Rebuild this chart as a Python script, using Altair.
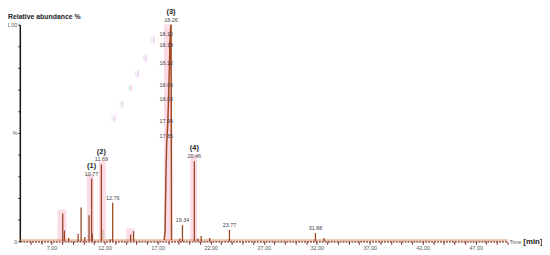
import altair as alt
import pandas as pd

# ---------------- data ----------------
# narrow peaks (retention time in min, relative abundance 0..1)
peak_times = [8.05, 8.21, 8.60, 9.50, 9.78, 10.13, 10.53, 10.77, 10.83, 11.69,
              12.54, 12.76, 14.45, 14.73, 19.09, 19.34, 20.46, 20.79, 21.10,
              21.91, 23.77, 31.88, 32.70]
peak_heights = [0.128, 0.050, 0.016, 0.035, 0.156, 0.020, 0.120, 0.290, 0.035, 0.355,
                0.010, 0.178, 0.031, 0.047, 0.013, 0.075, 0.370, 0.013, 0.025,
                0.015, 0.053, 0.038, 0.016]
# faint (light coloured) peak
faint_times = [11.85]
faint_heights = [0.055]

# main peak profile (3)
main_times = [17.62, 17.70, 17.78, 17.85, 17.96, 18.03, 18.06, 18.12, 18.15, 18.19, 18.26, 18.29, 18.31]
main_heights = [0.006, 0.05, 0.30, 0.45, 0.55, 0.66, 0.72, 0.82, 0.91, 0.96, 1.0, 0.5, 0.006]
main_apex = 18.26

# stacked retention-time labels on the main peak
stack_labels = ["18.15", "18.19", "18.12", "18.06", "18.03", "17.96", "17.85"]
stack_heights = [0.956, 0.907, 0.823, 0.721, 0.655, 0.553, 0.487]

# labelled peaks
labelled_peaks = ["10.77", "11.69", "12.76", "19.34", "20.46", "23.77", "31.88"]
# compound numbers
group_names = ["(1)", "(2)", "(3)", "(4)"]
group_peaks = [10.77, 11.69, 18.26, 20.46]

# integration bands (pink)
band_start = [7.56, 10.34, 11.45, 14.05, 17.60, 20.08]
band_end = [8.39, 10.99, 12.10, 14.79, 18.36, 20.73]
band_top = [0.146, 0.31, 0.37, 0.06, 1.0, 0.40]

# stray pink marks in the upper area
stray_times = [16.65, 15.91, 15.16, 14.51, 13.68, 12.94]
stray_heights = [0.93, 0.845, 0.774, 0.708, 0.633, 0.566]

baseline_level = 0.006
time_start, time_end = 4.0, 50.0
y_ticks = [round(i / 10, 1) for i in range(11)]
x_ticks = list(range(5, 51))

# ---------------- tables ----------------
peaks_df = pd.DataFrame({"t": peak_times, "h": peak_heights, "h0": 0.0})
faint_df = pd.DataFrame({"t": faint_times, "h": faint_heights, "h0": 0.0})
main_df = pd.DataFrame({"t": main_times, "h": main_heights})
height_of = dict(zip(peak_times, peak_heights))
lab_df = pd.DataFrame({"t": [float(s) for s in labelled_peaks], "label": labelled_peaks})
lab_df["h"] = [height_of[v] for v in lab_df["t"]]
height_of[main_apex] = 1.0
grp_df = pd.DataFrame({"t": group_peaks, "label": group_names})
grp_df["h"] = [height_of[v] for v in grp_df["t"]]
apex_df = pd.DataFrame({"t": [main_apex], "h": [1.0], "label": [f"{main_apex:.2f}"]})
stack_df = pd.DataFrame({"t": main_apex, "h": stack_heights, "label": stack_labels})
band_df = pd.DataFrame({"t": band_start, "t2": band_end, "h": band_top, "h0": 0.0})
stray_df = pd.DataFrame({"t": [v - 0.07 for v in stray_times], "t2": [v + 0.07 for v in stray_times],
                         "h": [v - 0.016 for v in stray_heights], "h2": [v + 0.016 for v in stray_heights]})
stray_c_df = pd.DataFrame({"t": [v - 0.3 for v in stray_times], "t2": [v - 0.12 for v in stray_times],
                           "h": [v - 0.012 for v in stray_heights], "h2": [v + 0.012 for v in stray_heights]})
base_df = pd.DataFrame({"t": [time_start], "t2": [time_end], "h": [baseline_level]})
one = pd.DataFrame({"a": [0]})

FONT = "Liberation Sans"
xscale = alt.Scale(domain=[time_start, time_end], nice=False, zero=False)
yscale = alt.Scale(domain=[0, 1], nice=False, zero=True)
xaxis = alt.Axis(values=x_ticks, labelExpr="(datum.value - 7) % 5 == 0 ? format(datum.value, '.2f') : ''",
                 labelOverlap=False, grid=False, title=None, tickSize=3, tickColor="#7a2a2a",
                 domainColor="#7a2a2a", domainWidth=1.2, domainDash=[2, 1], labelFontSize=5.5,
                 labelColor="#555555", labelPadding=1, labelFont=FONT)
yaxis = alt.Axis(values=y_ticks,
                 labelExpr="datum.value == 1 ? '1.00' : (datum.value == 0.5 ? '%' : (datum.value == 0 ? '0' : ''))",
                 labelOverlap=False, grid=False, title=None, tickSize=2, tickColor="#222222",
                 domainColor="#111111", domainWidth=1.5, labelFontSize=5.5, labelColor="#555555",
                 labelPadding=1, labelFont=FONT)


def X(f):
    return alt.X(f, type="quantitative", scale=xscale, axis=xaxis)


def Y(f):
    return alt.Y(f, type="quantitative", scale=yscale, axis=yaxis)


bands = alt.Chart(band_df).mark_rect(color="#fbd3e2", opacity=0.85).encode(
    x=X("t"), x2="t2", y=Y("h0"), y2="h")
stray = alt.Chart(stray_df).mark_rect(color="#f5bde6", opacity=0.8).encode(x=X("t"), x2="t2", y=Y("h"), y2="h2")
stray_c = alt.Chart(stray_c_df).mark_rect(color="#d6f1f8", opacity=0.8).encode(x=X("t"), x2="t2", y=Y("h"), y2="h2")
baseline = alt.Chart(base_df).mark_rule(color="#d98a4c", strokeWidth=1).encode(x=X("t"), x2="t2", y=Y("h"))
peaks = alt.Chart(peaks_df).mark_rule(color="#9a4722", strokeWidth=1.3).encode(x=X("t"), y=Y("h0"), y2="h")
faint = alt.Chart(faint_df).mark_rule(color="#d9b99c", strokeWidth=1.3).encode(x=X("t"), y=Y("h0"), y2="h")
main = alt.Chart(main_df).mark_line(color="#a0481f", strokeWidth=1.5).encode(x=X("t"), y=Y("h"))

num_labels = alt.Chart(lab_df).mark_text(font=FONT, fontSize=5.5, color="#444444", baseline="bottom", dy=-2).encode(
    x=X("t"), y=Y("h"), text="label")
apex_label = alt.Chart(apex_df).mark_text(font=FONT, fontSize=5.5, color="#444444", baseline="bottom", dy=-2).encode(
    x=X("t"), y=Y("h"), text="label")
grp_labels = alt.Chart(grp_df).mark_text(font=FONT, fontSize=7.5, fontWeight="bold", color="#222222",
                                         baseline="bottom", dy=-9).encode(x=X("t"), y=Y("h"), text="label")
stack_labels_chart = alt.Chart(stack_df).mark_text(font=FONT, fontSize=5.5, color="#444444", align="right",
                                                   baseline="middle", dx=2).encode(x=X("t"), y=Y("h"), text="label")

title_txt = alt.Chart(one).mark_text(font=FONT, fontSize=7, fontWeight="bold", color="#222222",
                                     align="left", baseline="alphabetic").encode(
    x=alt.value(-12), y=alt.value(-6), text=alt.value("Relative abundance %"))
time_txt = alt.Chart(one).mark_text(font=FONT, fontSize=5.5, color="#555555", align="left", baseline="middle").encode(
    x=alt.value(497), y=alt.value(221), text=alt.value("Time"))
min_txt = alt.Chart(one).mark_text(font=FONT, fontSize=8, fontWeight="bold", color="#222222",
                                   align="left", baseline="middle").encode(
    x=alt.value(511), y=alt.value(221), text=alt.value("[min]"))

chart = alt.layer(
    bands, stray_c, stray, baseline, peaks, faint, main, num_labels, apex_label, grp_labels,
    stack_labels_chart, title_txt, time_txt, min_txt
).properties(
    width=495, height=220,
    autosize=alt.AutoSizeParams(type="none"),
    padding={"left": 12, "top": 15, "right": 35, "bottom": 12},
    background="white",
).configure_view(stroke=None)

chart.save("out.html", embed_options={"renderer": "svg", "actions": False})
